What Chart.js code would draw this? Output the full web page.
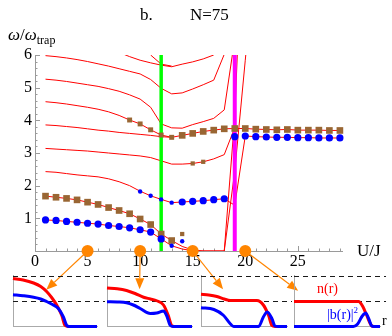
<!DOCTYPE html>
<html>
<head>
<meta charset="utf-8">
<script src="https://cdn.jsdelivr.net/npm/chart.js@4.4.1/dist/chart.umd.min.js"></script>
<style>
html,body{margin:0;padding:0;background:#fff;width:392px;height:336px;overflow:hidden;}
#wrap{position:relative;width:392px;height:336px;font-family:"Liberation Serif","DejaVu Serif",serif;color:#000;}
#wrap canvas{position:absolute;}
.t{position:absolute;white-space:nowrap;line-height:1;}
</style>
</head>
<body>
<div id="wrap">
<canvas id="main" width="392" height="336" style="left:0;top:0;width:392px;height:336px"></canvas>
<div class="t" style="left:140px;top:6px;font-size:17px">b.</div>
<div class="t" style="left:190px;top:6px;font-size:17px">N=75</div>
<div class="t" style="left:8px;top:26px;font-size:17px"><i>ω</i>/<i>ω</i><span style="font-size:12px;position:relative;top:4px">trap</span></div>
<div class="t" style="left:357px;top:242px;font-size:17px">U/J</div>
<div class="t" style="left:317px;top:282px;font-size:14px;color:#f00">n(r)</div>
<div class="t" style="left:327px;top:308px;font-size:14px;color:#00f">|b(r)|<span style="font-size:9px;position:relative;top:-6px">2</span></div>
<div class="t" style="left:382px;top:314px;font-size:14px">r</div>
</div>
<script>
// ---------- tick labels ----------
const xTickValues = [0, 5, 10, 15, 20, 25];
const yTickValues = [1, 2, 3, 4, 5, 6];

// ---------- symbols (U/J , omega/omega_trap) ----------
const blueBigX = [1,2,3,4,5,6,7,8,9,10,11,12, 14,15,16,17,18, 19,20,21,22,23,24,25,26,27,28,29];
const blueBigY = [0.95,0.935,0.905,0.88,0.85,0.825,0.78,0.75,0.71,0.65,0.58,0.37, 1.50,1.52,1.54,1.57,1.60, 3.50,3.52,3.50,3.49,3.48,3.48,3.47,3.47,3.46,3.46,3.46];
const blueSmallX = [13,14,10,11,12,13];
const blueSmallY = [0.16,0.30,1.82,1.69,1.58,1.48];
const brownBigX = [1,2,3,4,5,6,7,8,9,10,11,12,13, 14,15,16,17,18,19,20,21,22,23,24,25,26,27,28,29];
const brownBigY = [1.68,1.645,1.61,1.565,1.495,1.425,1.33,1.24,1.14,0.98,0.81,0.52,0.32, 3.54,3.60,3.66,3.70,3.74,3.75,3.75,3.73,3.72,3.71,3.72,3.70,3.70,3.70,3.69,3.69];
const brownMidX = [9,10,11,12,13];
const brownMidY = [4.01,3.89,3.71,3.55,3.48];
const brownSmallX = [14,15,16];
const brownSmallY = [0.52,2.68,2.73];

// ---------- red spectrum lines ----------
const lineE_X = [8,9,10,11,12,13,14,15,16,17];
const lineE_Y = [6.08,5.95,5.84,5.76,5.69,5.64,5.72,5.79,5.88,6.0];
const lineE2_X = [10,11,12,13];
const lineE2_Y = [6.6,6.0,5.72,5.66];
const lineA_X = [1,2,3,4,5,6,7,8,9,10,11,12,13,14,15,16,17,18];
const lineA_Y = [5.98,5.95,5.91,5.86,5.80,5.73,5.66,5.58,5.50,5.42,5.25,4.98,4.81,4.84,4.96,5.09,5.23,6.02];
const lineB_X = [1,2,3,4,5,6,7,8,9,10,11,12,13,14,15,16,17,18,19];
const lineB_Y = [5.26,5.23,5.19,5.14,5.09,5.04,4.97,4.89,4.78,4.65,4.40,3.89,3.77,3.76,3.87,3.96,4.06,4.32,6.5];
const lineC_X = [1,2,3,4,5,6,7,8,9,10,11,12,13,14,15,16,17,18,19,20,21,22,23,24,25,26,27,28,29];
const lineC_Y = [4.57,4.54,4.50,4.45,4.40,4.34,4.26,4.15,4.01,3.89,3.71,3.55,3.48,3.54,3.60,3.66,3.70,3.74,3.75,3.75,3.73,3.72,3.71,3.72,3.70,3.70,3.70,3.69,3.69];
const lineD_X = [1,2,3,4,5,6,7,8,9,10,11,12,13];
const lineD_Y = [3.86,3.84,3.81,3.78,3.74,3.70,3.67,3.63,3.60,3.57,3.54,3.50,3.48];
const lineF_X = [1,2,3,4,5,6,7,8,9,10,11,12,13,14,15,16,17,18,19];
const lineF_Y = [3.14,3.12,3.10,3.08,3.06,3.03,3.00,2.97,2.94,2.91,2.86,2.76,2.66,2.66,2.68,2.73,2.82,2.95,3.78];
const lineG_X = [1,2,3,4,5,6,7,8,9,10,11,12,13,14,15,16,17,18,19,20,21,22,23,24,25,26,27,28,29];
const lineG_Y = [2.43,2.41,2.37,2.33,2.30,2.27,2.21,2.12,2.00,1.83,1.69,1.58,1.48,1.50,1.52,1.54,1.57,1.60,1.40,3.52,3.50,3.49,3.48,3.48,3.47,3.47,3.46,3.46,3.46];
const lineL1_X = [1,2,3,4,5,6,7,8,9,10,11,12,13,14,15,16,17,18,19,20,21];
const lineL1_Y = [1.68,1.645,1.61,1.565,1.495,1.425,1.33,1.24,1.14,0.98,0.81,0.52,0.32,0.14,0.03,0,0,0,2.44,5.84,9.2];
const lineL0_X = [1,2,3,4,5,6,7,8,9,10,11,12,13,14,15,16,17,18,19,20];
const lineL0_Y = [0.95,0.935,0.905,0.88,0.85,0.825,0.78,0.75,0.71,0.65,0.58,0.37,0.16,0.06,0.01,0,0,0,4.1,12];

// ---------- transitions and probes ----------
const transitionX = [12, 19];
const transitionYRange = [0, 6];
const probeX = [5, 10, 15, 20];
const probeY = [0, 0, 0, 0];
const arrowTipX = [1.07, 9.95, 17.89, 25.03];
const arrowTipY = [-1.19, -1.17, -1.17, -1.22];

// ---------- insets: n(r) and |b(r)|^2 ----------
const inRedR = [
  [0,0.12,0.245,0.33,0.40,0.46,0.52,0.58,0.62,0.66,1],
  [0,0.12,0.23,0.33,0.43,0.51,0.585,0.665,0.72,0.76,0.79,1],
  [0,0.09,0.185,0.27,0.34,0.50,0.65,0.725,0.785,0.825,0.86,1],
  [0,0.40,0.75,0.80,0.845,0.90,0.93,1]
];
const inRedN = [
  [1.92,1.86,1.74,1.60,1.40,1.16,0.86,0.45,0.04,0,0],
  [1.54,1.51,1.44,1.32,1.17,1.10,1.03,0.86,0.45,0.04,0,0],
  [1.29,1.26,1.20,1.10,1.04,1.04,1.04,0.86,0.45,0.04,0,0],
  [1.0,1.0,1.0,0.80,0.45,0.04,0,0]
];
const inBlueR = [
  [0,0.12,0.245,0.33,0.40,0.47,0.54,0.60,0.64,0.67,1],
  [0,0.12,0.23,0.31,0.39,0.51,0.585,0.665,0.70,0.745,0.78,1],
  [0,0.15,0.26,0.34,0.38,0.67,0.725,0.77,0.825,0.86,0.9,1],
  [0,0.69,0.74,0.79,0.834,0.87,0.905,0.93,1]
];
const inBlueB = [
  [1.27,1.23,1.17,1.10,1.00,0.88,0.72,0.38,0.04,0,0],
  [0.99,0.98,0.95,0.86,0.72,0.52,0.54,0.62,0.45,0.04,0,0],
  [0.75,0.68,0.45,0.11,0,0,0.38,0.58,0.31,0.02,0,0],
  [0,0,0.10,0.40,0.54,0.30,0.02,0,0]
];
const inLevels = [1, 2];
const inDashEnd = [1.12, 1.106, 1.08, 1.07];

// ---------- styles ----------
const RED = 'rgb(255,0,0)', BLUE = 'rgb(0,0,255)', BROWN = 'rgb(153,102,51)';
const ORANGE = 'rgb(255,133,0)', AXIS = '#9a9a9a', FONT = 'Liberation Serif';
const pts = (xs, ys) => xs.map((x, i) => ({x: x, y: ys[i]}));

function redLine(xs, ys) {
  return {data: pts(xs, ys), showLine: true, borderColor: RED, borderWidth: 1,
          pointRadius: 0, tension: 0, order: 10};
}
function marks(xs, ys, color, style, r, order) {
  return {data: pts(xs, ys), showLine: false, pointStyle: style, pointRadius: r,
          backgroundColor: color, borderColor: color, borderWidth: 0, order: order, clip: false};
}

const tickPlugin = {
  id: 'innerTicks',
  beforeDatasetsDraw(chart) {
    const {ctx, chartArea: a, scales: {x, y}} = chart;
    ctx.save();
    ctx.strokeStyle = AXIS; ctx.lineWidth = 1; ctx.beginPath();
    for (let v = 0; v <= 29; v++) {
      const px = Math.round(x.getPixelForValue(v)) + 0.5;
      const len = (v % 5 === 0) ? 5 : 2.5;
      ctx.moveTo(px, a.bottom); ctx.lineTo(px, a.bottom - len);
    }
    for (let k = 0; k <= 30; k++) {
      const py = Math.round(y.getPixelForValue(k / 5)) + 0.5;
      const len = (k % 5 === 0) ? 5 : 2.5;
      ctx.moveTo(a.left, py); ctx.lineTo(a.left + len, py);
    }
    ctx.stroke(); ctx.restore();
  }
};
const arrowPlugin = {
  id: 'probeArrows',
  beforeDatasetsDraw(chart) {
    const {ctx, scales: {x, y}} = chart;
    ctx.save(); ctx.strokeStyle = ORANGE; ctx.fillStyle = ORANGE; ctx.lineWidth = 1.2;
    for (let i = 0; i < probeX.length; i++) {
      const x0 = x.getPixelForValue(probeX[i]), y0 = y.getPixelForValue(probeY[i]);
      const x1 = x.getPixelForValue(arrowTipX[i]), y1 = y.getPixelForValue(arrowTipY[i]);
      const ang = Math.atan2(y1 - y0, x1 - x0), L = 11, W = 4.5;
      const bx = x1 - L * Math.cos(ang), by = y1 - L * Math.sin(ang);
      ctx.beginPath(); ctx.moveTo(x0, y0); ctx.lineTo(bx, by); ctx.stroke();
      ctx.beginPath(); ctx.moveTo(x1, y1);
      ctx.lineTo(bx + W * Math.sin(ang), by - W * Math.cos(ang));
      ctx.lineTo(bx - W * Math.sin(ang), by + W * Math.cos(ang));
      ctx.closePath(); ctx.fill();
    }
    ctx.restore();
  }
};

const vLine = (xv, color, w) => ({
  data: pts([xv, xv], transitionYRange), showLine: true, borderColor: color, borderWidth: w,
  pointRadius: 0, order: 5
});

new Chart(document.getElementById('main'), {
  type: 'scatter',
  data: {datasets: [
    marks(probeX, probeY, ORANGE, 'circle', 6, 0),
    marks(blueBigX, blueBigY, BLUE, 'circle', 3.6, 1),
    marks(blueSmallX, blueSmallY, BLUE, 'circle', 2.2, 1),
    marks(brownBigX, brownBigY, BROWN, 'rect', 4.7, 2),
    marks(brownMidX, brownMidY, BROWN, 'rect', 3.5, 2),
    marks(brownSmallX, brownSmallY, BROWN, 'rect', 3.0, 2),
    vLine(transitionX[0], 'rgb(0,255,0)', 3.5),
    vLine(transitionX[1], 'rgb(255,0,255)', 4),
    redLine(lineE_X, lineE_Y), redLine(lineE2_X, lineE2_Y),
    redLine(lineA_X, lineA_Y), redLine(lineB_X, lineB_Y),
    redLine(lineC_X, lineC_Y), redLine(lineD_X, lineD_Y),
    redLine(lineF_X, lineF_Y), redLine(lineG_X, lineG_Y),
    redLine(lineL1_X, lineL1_Y), redLine(lineL0_X, lineL0_Y)
  ]},
  options: {
    responsive: false, animation: false, devicePixelRatio: 1, events: [],
    layout: {padding: {left: 0, top: 55, right: 50, bottom: 0}},
    plugins: {legend: {display: false}, tooltip: {enabled: false}, title: {display: false}},
    scales: {
      x: {type: 'linear', min: 0, max: 29.2,
          afterFit(s) { s.height = 85; },
          afterBuildTicks(s) { s.ticks = xTickValues.map(v => ({value: v})); },
          ticks: {font: {family: FONT, size: 16}, color: '#000', padding: 1, maxRotation: 0, autoSkip: false},
          grid: {display: false, drawTicks: false},
          border: {display: true, color: AXIS, width: 1}},
      y: {type: 'linear', min: 0, max: 6,
          afterFit(s) { s.width = 35; },
          afterBuildTicks(s) { s.ticks = yTickValues.map(v => ({value: v})); },
          ticks: {font: {family: FONT, size: 16}, color: '#000', padding: 3, autoSkip: false},
          grid: {display: false, drawTicks: false},
          border: {display: true, color: AXIS, width: 1}}
    }
  },
  plugins: [tickPlugin, arrowPlugin]
});

// ---------- inset panels ----------
const panelLeft = [13, 107, 201, 294];
const panelWidth = [84, 85, 86, 86];
const wrap = document.getElementById('wrap');
for (let i = 0; i < 4; i++) {
  const c = document.createElement('canvas');
  const left = panelLeft[i] - 2;
  const right = (i < 3) ? panelLeft[i + 1] - 2 : 392;
  const W = right - left, H = 66;
  c.width = W; c.height = H;
  c.style.left = left + 'px'; c.style.top = '270px';
  c.style.width = W + 'px'; c.style.height = H + 'px';
  wrap.appendChild(c);
  const ds = [];
  inLevels.forEach(lv => ds.push({data: pts([0, inDashEnd[i]], [lv, lv]), showLine: true,
    borderColor: '#1a1a1a', borderWidth: 1, borderDash: [5, 4], pointRadius: 0, clip: false, order: 3}));
  ds.push({data: pts(inRedR[i], inRedN[i]), showLine: true, borderColor: RED, borderWidth: 3,
    pointRadius: 0, cubicInterpolationMode: 'monotone', clip: false, order: 1});
  ds.push({data: pts(inBlueR[i], inBlueB[i]), showLine: true, borderColor: BLUE, borderWidth: 3,
    pointRadius: 0, cubicInterpolationMode: 'monotone', clip: false, order: 0});
  new Chart(c, {
    type: 'scatter',
    data: {datasets: ds},
    options: {
      responsive: false, animation: false, devicePixelRatio: 1, events: [],
      layout: {padding: {left: 2, top: 5, right: W - 2 - panelWidth[i], bottom: 10}},
      plugins: {legend: {display: false}, tooltip: {enabled: false}},
      scales: {
        x: {type: 'linear', min: 0, max: 1, afterFit(s) { s.height = 0; },
            ticks: {display: false}, grid: {display: false, drawTicks: false},
            border: {display: true, color: '#aaa', width: 1}},
        y: {type: 'linear', min: 0.02, max: 2.06, afterFit(s) { s.width = 0; },
            ticks: {display: false}, grid: {display: false, drawTicks: false},
            border: {display: true, color: '#aaa', width: 1}}
      }
    }
  });
}
</script>
</body>
</html>
